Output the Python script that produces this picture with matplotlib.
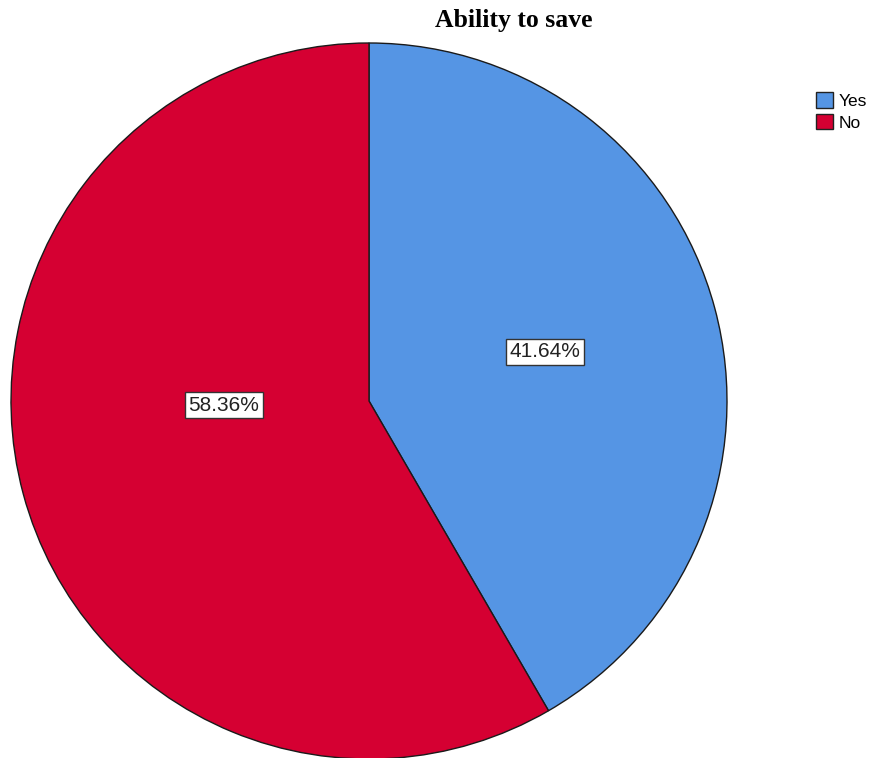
import numpy as np
import matplotlib.pyplot as plt

# Survey result: can the respondent save money?
categories = ["Yes", "No"]
shares = [41.64, 58.36]
colors = ["#5595E4", "#D50032"]

W, H = 874, 758
fig = plt.figure(figsize=(W / 100, H / 100), dpi=100)
ax = fig.add_axes([0, 0, 1, 1])

cx, cy, r = 369, H - 401, 358
wedges, _ = ax.pie(shares, colors=colors, startangle=90, counterclock=False,
                   radius=r, center=(cx, cy), frame=True,
                   wedgeprops=dict(edgecolor="#1a1a1a", linewidth=1.0))
ax.set_xlim(0, W)
ax.set_ylim(0, H)
ax.set_aspect("equal")
ax.axis("off")

# percentage labels in white boxes inside each slice
label_pos = [(15.6, 0.51), (181.6, 0.405)]
for val, (ang, dist) in zip(shares, label_pos):
    a = np.deg2rad(ang)
    ax.text(cx + dist * r * np.cos(a), cy + dist * r * np.sin(a), f"{val:.2f}%",
            ha="center", va="center", fontsize=15, family="Liberation Sans",
            color="#222222",
            bbox=dict(boxstyle="square,pad=0.17", fc="white", ec="#333333", lw=1.0))

fig.text(514 / W, 1 - 21 / H, "Ability to save", ha="center", va="center",
         fontsize=18.5, fontweight="bold", family="Liberation Serif")

leg = fig.legend(wedges, categories, loc="upper left",
                 bbox_to_anchor=(816 / W, 1 - 92 / H), frameon=False,
                 prop=dict(family="Liberation Sans", size=12.5),
                 handlelength=1.0, handleheight=1.0, handletextpad=0.3,
                 labelspacing=0.3, borderpad=0, borderaxespad=0)
for h in leg.legend_handles:
    h.set_edgecolor("#222222")
    h.set_linewidth(1.0)

fig.savefig("out.png", dpi=100)
